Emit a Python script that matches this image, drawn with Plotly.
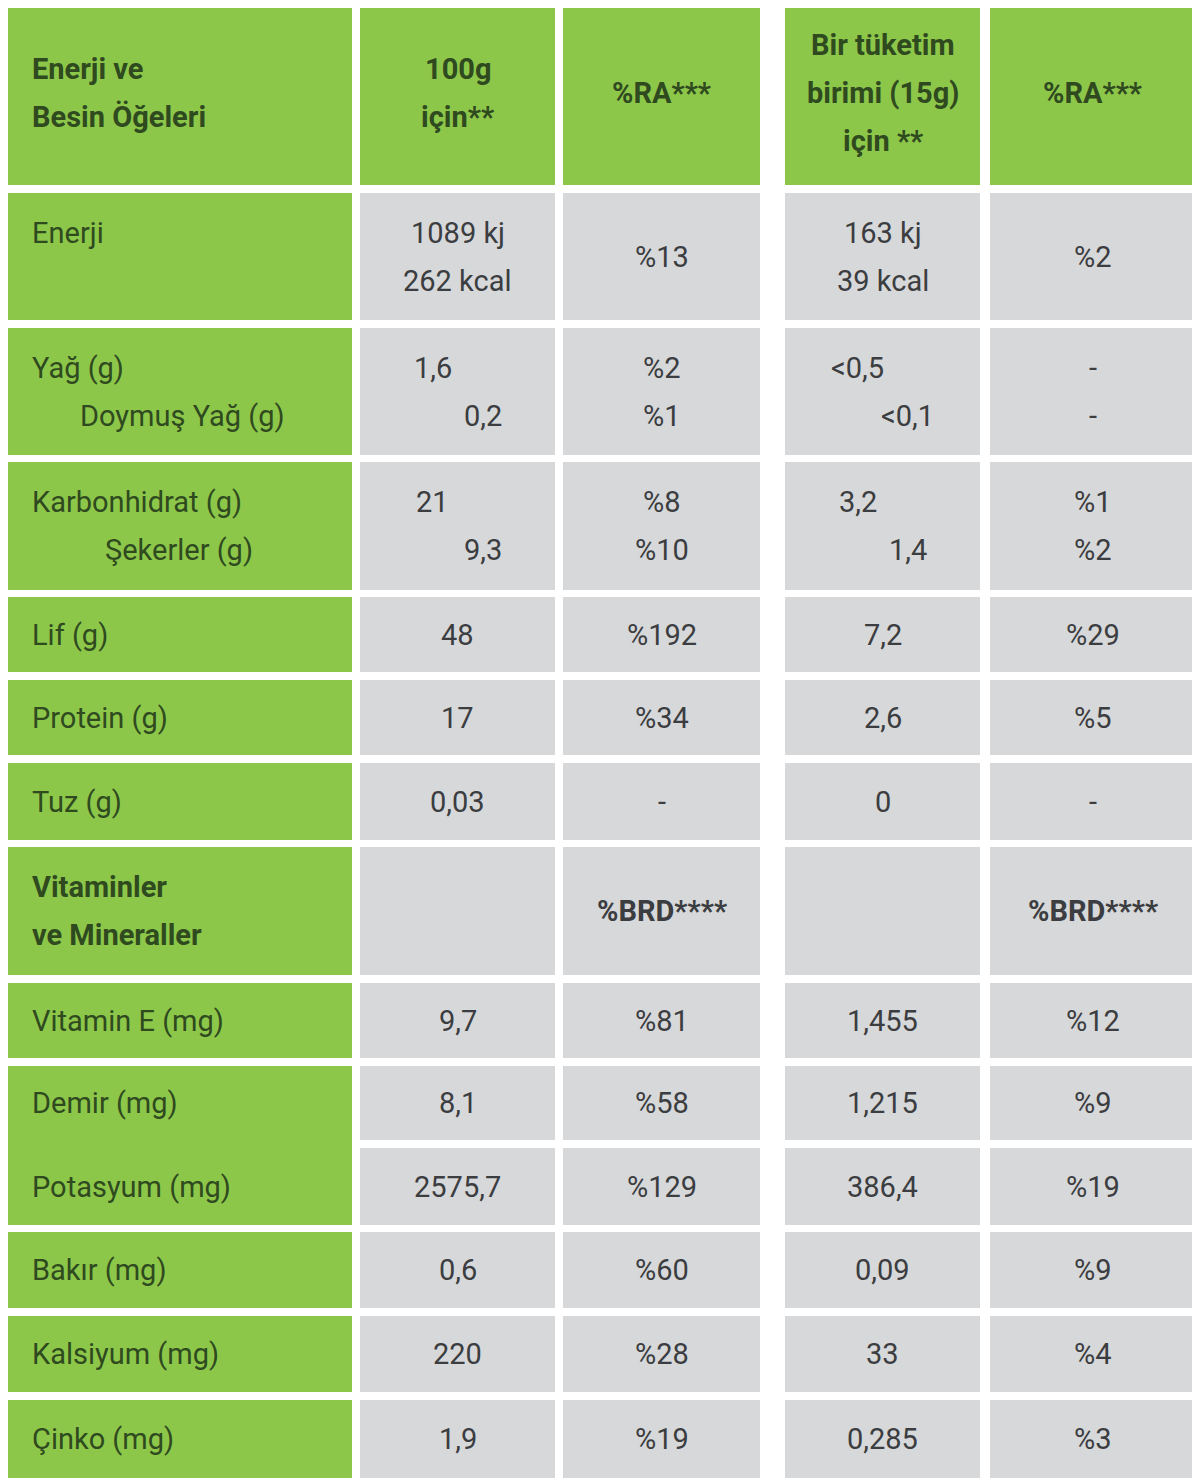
import plotly.graph_objects as go

# table content
headers = [["Enerji ve", "Besin Öğeleri"], ["100g", "için**"], ["%RA***"],
           ["Bir tüketim", "birimi (15g)", "için **"], ["%RA***"]]
labels = [["Enerji", ""], ["Yağ (g)", "Doymuş Yağ (g)"], ["Karbonhidrat (g)", "Şekerler (g)"],
          ["Lif (g)"], ["Protein (g)"], ["Tuz (g)"], ["Vitaminler", "ve Mineraller"],
          ["Vitamin E (mg)"], ["Demir (mg)"], ["Potasyum (mg)"], ["Bakır (mg)"],
          ["Kalsiyum (mg)"], ["Çinko (mg)"]]
per100 = [["1089 kj", "262 kcal"], ["1,6", "0,2"], ["21", "9,3"], ["48"], ["17"], ["0,03"], [""],
          ["9,7"], ["8,1"], ["2575,7"], ["0,6"], ["220"], ["1,9"]]
ra100 = [["%13"], ["%2", "%1"], ["%8", "%10"], ["%192"], ["%34"], ["-"], ["%BRD****"],
         ["%81"], ["%58"], ["%129"], ["%60"], ["%28"], ["%19"]]
per15 = [["163 kj", "39 kcal"], ["<0,5", "<0,1"], ["3,2", "1,4"], ["7,2"], ["2,6"], ["0"], [""],
         ["1,455"], ["1,215"], ["386,4"], ["0,09"], ["33"], ["0,285"]]
ra15 = [["%2"], ["-", "-"], ["%1", "%2"], ["%29"], ["%5"], ["-"], ["%BRD****"],
        ["%12"], ["%9"], ["%19"], ["%9"], ["%4"], ["%3"]]

# geometry (pixels of the page)
cols = [(5, 352), (360, 555), (563, 760), (785, 980), (990, 1195)]
rows = [(193, 320), (328, 455), (462, 590), (597, 672), (680, 755), (763, 840), (847, 975),
        (983, 1058), (1066, 1140), (1148, 1225), (1232, 1308), (1316, 1392), (1400, 1478)]
header_row = (0, 185)
GREEN, GRAY = "#8dc74a", "#d7d8da"
LABEL_C, VAL_C = "#2f4a1f", "#3b3d40"
FONT = "Roboto"
LH = 48
OFF = 8  # page body margin

fig = go.Figure()
shapes, anns = [], []

def rect(x0, x1, y0, y1, color):
    shapes.append(dict(type="rect", x0=x0, x1=x1, y0=y0, y1=y1, fillcolor=color,
                       line=dict(width=0), layer="below"))

def put(lines, x, y0, y1, color, bold=False, align="center", shift=0):
    yc = (y0 + y1) / 2
    n = len(lines)
    for i, t in enumerate(lines):
        if not t:
            continue
        txt = f"<b>{t}</b>" if bold else t
        xi = x + (shift if i == 1 else 0)
        anns.append(dict(x=xi, y=yc + (i - (n - 1) / 2) * LH, text=txt, showarrow=False,
                         xanchor="left" if align == "left" else "center", yanchor="middle",
                         font=dict(family=FONT, size=29, color=color)))

for c, (x0, x1) in enumerate(cols):
    rect(x0, x1, *header_row, GREEN)
    if c == 0:
        put(headers[c], 30, *header_row, LABEL_C, bold=True, align="left")
    else:
        put(headers[c], (x0 + x1) / 2, *header_row, LABEL_C, bold=True)

label_shift = {1: 48, 2: 73}
val_shift = {1: 50, 2: 50}
for r, (y0, y1) in enumerate(rows):
    if r == 8:
        rect(*cols[0], y0, rows[9][1], GREEN)
    elif r != 9:
        rect(*cols[0], y0, y1, GREEN)
    for c in range(1, 5):
        rect(*cols[c], y0, y1, GRAY)
    put(labels[r], 30, y0, y1, LABEL_C, bold=(r == 6), align="left", shift=label_shift.get(r, 0))
    for c, data in zip(range(1, 5), [per100, ra100, per15, ra15]):
        xc = (cols[c][0] + cols[c][1]) / 2
        sh = val_shift.get(r, 0) if c in (1, 3) else 0
        put(data[r], xc - sh / 2, y0, y1, VAL_C, bold=(r == 6), shift=sh)

fig.update_layout(
    width=1200, height=1484, margin=dict(l=0, r=0, t=0, b=0),
    plot_bgcolor="white", paper_bgcolor="white", shapes=shapes, annotations=anns,
    xaxis=dict(range=[OFF, 1200 + OFF], visible=False, fixedrange=True),
    yaxis=dict(range=[1484 + OFF, OFF], visible=False, fixedrange=True),
    showlegend=False,
)
fig.write_html("out.html")
